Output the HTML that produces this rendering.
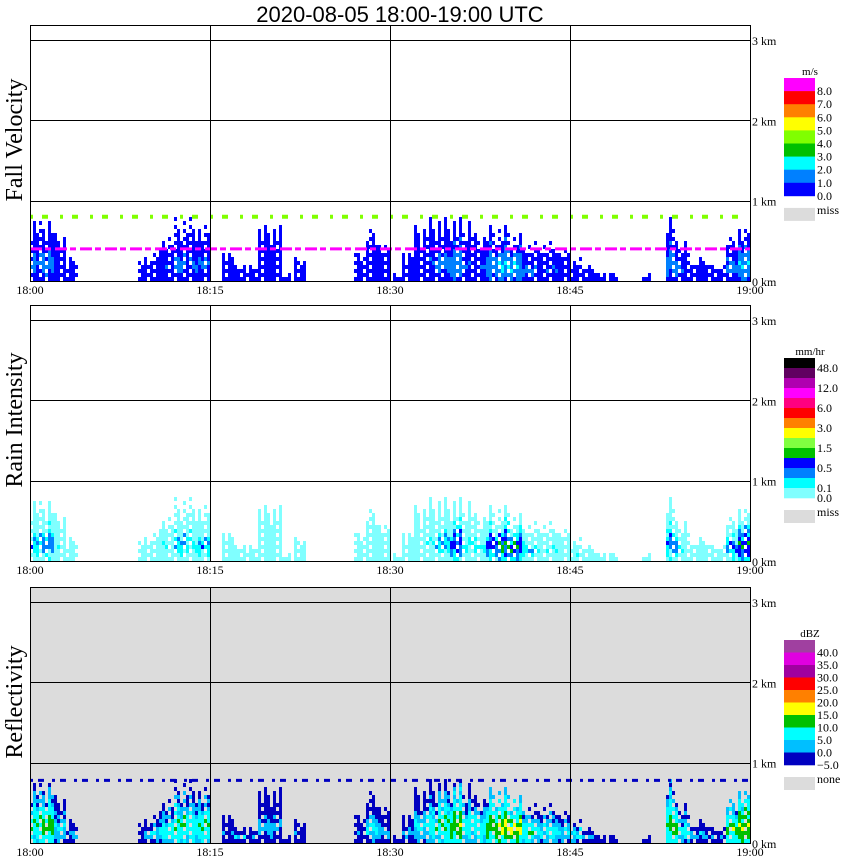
<!DOCTYPE html>
<html><head><meta charset="utf-8"><style>
html,body{margin:0;padding:0;background:#fff;}
svg{display:block;font-family:"Liberation Serif",serif;}
</style></head><body>
<svg id="chart" width="850" height="868" viewBox="0 0 850 868" xmlns="http://www.w3.org/2000/svg">
<text x="400" y="22" font-size="22" text-anchor="middle" font-family="Liberation Sans, sans-serif">2020-08-05   18:00-19:00 UTC</text>
</svg>
<script>
// per-minute data (60 bins, 18:00..18:59)
const minutes = Array.from({length:60},(_, i)=>i);
const echoTopKm = [0.8,0.8,0.6,0.3,0,0,0,0,0,0.3,0.4,0.6,0.8,0.8,0.7,0,0.4,0.2,0.2,0.7,0.7,0.1,0.3,0,0,0,0,0.4,0.7,0.5,
                   0.1,0.4,0.7,0.8,0.8,0.8,0.8,0.6,0.7,0.7,0.6,0.5,0.5,0.5,0.4,0.3,0.2,0.1,0.1,0,0,0.1,0,0.8,0.5,0.3,0.3,0.2,0.6,0.7];
const peakDbz = [18,20,12,8,0,0,0,0,0,8,12,15,18,16,18,0,6,10,5,8,8,3,5,0,0,0,0,5,12,8,
                 3,8,12,15,18,22,15,16,22,24,24,18,14,15,12,14,8,6,5,0,0,4,0,20,14,10,8,6,20,24];
const xTickLabels = ["18:00","18:15","18:30","18:45","19:00"];
const yTickLabels = ["0 km","1 km","2 km","3 km"];
const panelTitles = ["Fall Velocity","Rain Intensity","Reflectivity"];

const NS="http://www.w3.org/2000/svg";
const svg=document.getElementById('chart');
function mk(tag,attrs,parent){const e=document.createElementNS(NS,tag);for(const k in attrs)e.setAttribute(k,attrs[k]);(parent||svg).appendChild(e);return e;}
const X0=30,X1=750;
const xScale=m=>X0+(X1-X0)*m/60;
const panels=[{top:40},{top:320},{top:602}];
panels.forEach(p=>{p.bottom=p.top+241;p.y=km=>p.bottom-km*(241/3);});

function fvColor(d){ if(d<13)return'#0000ff'; if(d<21)return'#0080ff'; return'#00ffff';}
function rainColor(d){ if(d<12)return'#80ffff'; if(d<15)return'#00ffff'; if(d<18)return'#0080ff'; if(d<21)return'#0000ff'; return'#00c000';}
function dbzColor(d){ if(d<3)return'#0000c0'; if(d<8)return'#00bfff'; if(d<15)return'#00ffff'; if(d<20)return'#00c000'; return'#ffff00';}
const colorFns=[fvColor,rainColor,dbzColor];

panels.forEach((p,pi)=>{
  const g=mk('g',{});
  
  
  if(pi===2){
    const bg=mk('rect',{x:X0,y:p.top-15,width:X1-X0,height:256,fill:'#dcdcdc'},g);
    
    
  }
  const cw=3,ch=4;
  minutes.forEach(i=>{
    const top=echoTopKm[i],pk=peakDbz[i];
    if(top<=0)return;
    for(let s=0;s<4;s++){
      const f=0.65+0.35*(((i*7+s*3)%5)/4);
      const t=top*f;
      const x=xScale(i)+s*cw;
      const nCells=Math.round(t*(241/3)/ch);
      for(let c=0;c<nCells;c++){
        const h=c/nCells;
        if(((i*5+s*7+c*3)%6)===0) continue;
        const d=pk-26*Math.abs(h-0.3)-((i+s+c)%3)*2;
        const r=mk('rect',{x:x,y:p.bottom-(c+1)*ch,width:cw,height:ch,fill:colorFns[pi](d)},g);
        
        
      }
    }
  });
  if(pi===0){
    const ml=mk('line',{x1:X0,x2:X1,y1:p.y(0.4),y2:p.y(0.4),stroke:'#ff00ff','stroke-width':3,'stroke-dasharray':'12 3 6 4'},g);
    
    const gl=mk('line',{x1:X0,x2:X1,y1:p.y(0.8),y2:p.y(0.8),stroke:'#80ff00','stroke-width':4,'stroke-dasharray':'3 9 6 12'},g);
    
  }
  if(pi===2){
    const bl=mk('line',{x1:X0,x2:X1,y1:p.y(0.78),y2:p.y(0.78),stroke:'#0000c0','stroke-width':3,'stroke-dasharray':'3 5 6 8'},g);
    
  }
  const fr=mk('rect',{x:X0+0.5,y:p.top-15+0.5,width:X1-X0,height:256,fill:'none',stroke:'#000'},g);
  
  [1,2,3].forEach(k=>{const l=mk('line',{x1:X0,x2:X1,y1:Math.round(p.y(k))+0.5,y2:Math.round(p.y(k))+0.5,stroke:'#000'},g);
    });
  [15,30,45].forEach(m=>{const l=mk('line',{x1:xScale(m)+0.5,x2:xScale(m)+0.5,y1:p.top-15,y2:p.bottom,stroke:'#000'},g);
    });
  xTickLabels.forEach((t,k)=>{const tx=mk('text',{x:xScale(k*15),y:p.bottom+13,'font-size':12,'text-anchor':'middle'},g);tx.textContent=t;
    });
  yTickLabels.forEach((t,k)=>{const tx=mk('text',{x:752,y:p.y(k)+5,'font-size':12},g);tx.textContent=t;
    });
  const yt=mk('text',{x:0,y:0,'font-size':24,'text-anchor':'middle',transform:`translate(22,${p.top+100}) rotate(-90)`},g);
  yt.textContent=panelTitles[pi];
  
});

const legFV={title:'m/s',top:78,colors:['#ff00ff','#ff0000','#ff8000','#ffff00','#80ff00','#00c000','#00ffff','#0080ff','#0000ff'],labels:['8.0','7.0','6.0','5.0','4.0','3.0','2.0','1.0','0.0'],every:1,miss:'miss'};
const legRain={title:'mm/hr',top:358,colors:['#000000','#600060','#b000b0','#ff00ff','#ff0080','#ff0000','#ff8000','#ffff00','#80ff40','#00c000','#0000ff','#0080ff','#00ffff','#80ffff'],labels:['48.0','12.0','6.0','3.0','1.5','0.5','0.1','0.0'],every:2,miss:'miss'};
const legDbz={title:'dBZ',top:640,colors:['#a040a0','#e000e0','#a000a0','#ff0000','#ff8000','#ffff00','#00c000','#00ffff','#00bfff','#0000c0'],labels:['40.0','35.0','30.0','25.0','20.0','15.0','10.0','5.0','0.0','\u22125.0'],every:1,miss:'none'};
[[legFV,13.1],[legRain,10],[legDbz,12.5]].forEach(([L,h],li)=>{
  const g=mk('g',{});
  
  const t=mk('text',{x:810,y:L.top-3,'font-size':11,'text-anchor':'middle'},g);t.textContent=L.title;
  
  L.colors.forEach((c,k)=>{const r=mk('rect',{x:784,y:L.top+k*h,width:31,height:h+0.3,fill:c},g);
    });
  L.labels.forEach((lab,k)=>{let yy=L.top+(k*L.every+1)*h+4; if(li===1&&k===L.labels.length-1) yy=L.top+L.colors.length*h+4;
    const tx=mk('text',{x:817,y:yy,'font-size':12},g);tx.textContent=lab;
    });
  const my=L.top+L.colors.length*h+12;
  const mr=mk('rect',{x:784,y:my,width:31,height:13,fill:'#dcdcdc'},g);
  
  const mt=mk('text',{x:817,y:my+6,'font-size':12},g);mt.textContent=L.miss;
  
});
</script>
</body></html>
